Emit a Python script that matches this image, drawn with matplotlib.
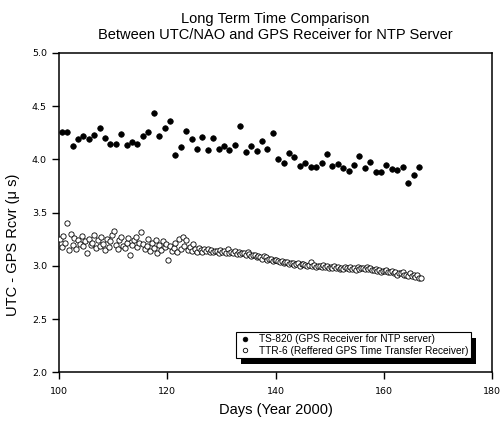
import matplotlib
matplotlib.use("Agg")
import matplotlib.pyplot as plt
from matplotlib.patches import Rectangle
from matplotlib.transforms import IdentityTransform

plt.rcParams['font.family'] = ['Liberation Sans', 'DejaVu Sans']

# TS-820 (GPS receiver for NTP server), one reading per day
ts_days = [100.5, 101.5, 102.5, 103.5, 104.5, 105.5, 106.5, 107.5, 108.5, 109.5,
           110.5, 111.5, 112.5, 113.5, 114.5, 115.5, 116.5, 117.5, 118.5, 119.5,
           120.5, 121.5, 122.5, 123.5, 124.5, 125.5, 126.5, 127.5, 128.5, 129.5,
           130.5, 131.5, 132.5, 133.5, 134.5, 135.5, 136.5, 137.5, 138.5, 139.5,
           140.5, 141.5, 142.5, 143.5, 144.5, 145.5, 146.5, 147.5, 148.5, 149.5,
           150.5, 151.5, 152.5, 153.5, 154.5, 155.5, 156.5, 157.5, 158.5, 159.5,
           160.5, 161.5, 162.5, 163.5, 164.5, 165.5, 166.5]
ts_vals = [4.26, 4.26, 4.13, 4.19, 4.22, 4.19, 4.23, 4.30, 4.20, 4.15,
           4.15, 4.24, 4.14, 4.16, 4.15, 4.22, 4.26, 4.44, 4.22, 4.30,
           4.36, 4.04, 4.12, 4.27, 4.19, 4.10, 4.21, 4.09, 4.20, 4.10,
           4.13, 4.09, 4.14, 4.31, 4.07, 4.13, 4.08, 4.17, 4.10, 4.25,
           4.00, 3.97, 4.06, 4.02, 3.94, 3.97, 3.93, 3.93, 3.97, 4.05,
           3.94, 3.96, 3.92, 3.89, 3.95, 4.03, 3.92, 3.98, 3.88, 3.88,
           3.95, 3.91, 3.90, 3.93, 3.78, 3.85, 3.93]

# TTR-6 (referred GPS time transfer receiver), three readings per day
ttr_day_list = list(range(100, 167))
ttr_readings = [
    [3.25, 3.18, 3.28], [3.22, 3.40, 3.15], [3.30, 3.20, 3.26], [3.16, 3.24, 3.21],
    [3.28, 3.19, 3.23], [3.12, 3.25, 3.20], [3.22, 3.29, 3.17], [3.24, 3.19, 3.27],
    [3.21, 3.15, 3.25], [3.18, 3.23, 3.29], [3.33, 3.20, 3.16], [3.24, 3.27, 3.19],
    [3.17, 3.22, 3.26], [3.10, 3.20, 3.24], [3.27, 3.18, 3.22], [3.32, 3.21, 3.16],
    [3.19, 3.25, 3.14], [3.22, 3.17, 3.24], [3.12, 3.20, 3.15], [3.23, 3.18, 3.21],
    [3.06, 3.19, 3.14], [3.17, 3.22, 3.13], [3.25, 3.16, 3.27], [3.19, 3.24, 3.15],
    [3.18, 3.14, 3.21], [3.16, 3.13, 3.17], [3.15, 3.13, 3.16], [3.14, 3.16, 3.13],
    [3.15, 3.13, 3.14], [3.14, 3.12, 3.15], [3.13, 3.14, 3.12], [3.16, 3.12, 3.13],
    [3.12, 3.14, 3.11], [3.13, 3.11, 3.12], [3.12, 3.10, 3.13], [3.11, 3.09, 3.10],
    [3.10, 3.08, 3.09], [3.08, 3.07, 3.09], [3.08, 3.06, 3.07], [3.07, 3.05, 3.06],
    [3.06, 3.05, 3.04], [3.05, 3.03, 3.04], [3.04, 3.02, 3.03], [3.03, 3.01, 3.02],
    [3.03, 3.00, 3.02], [3.02, 3.01, 3.00], [3.01, 3.04, 3.00], [3.01, 2.99, 3.00],
    [3.00, 2.99, 3.01], [2.99, 3.00, 2.98], [2.99, 2.98, 3.00], [2.98, 2.99, 2.97],
    [2.98, 2.97, 2.99], [2.98, 2.97, 2.99], [2.97, 2.98, 2.96], [2.99, 2.97, 2.98],
    [2.98, 2.97, 2.99], [2.97, 2.98, 2.96], [2.96, 2.97, 2.95], [2.96, 2.94, 2.95],
    [2.95, 2.96, 2.94], [2.94, 2.95, 2.93], [2.94, 2.92, 2.93], [2.93, 2.94, 2.92],
    [2.92, 2.91, 2.93], [2.91, 2.92, 2.90], [2.92, 2.89, 2.89],
]
ttr_offsets = [0.17, 0.5, 0.83]  # reading times within a day

ttr_days = []
ttr_vals = []
for d, vals in zip(ttr_day_list, ttr_readings):
    for off, v in zip(ttr_offsets, vals):
        ttr_days.append(d + off)
        ttr_vals.append(v)

fig = plt.figure(figsize=(5.0, 4.24), dpi=100)
ax = fig.add_axes([0.118, 0.1215, 0.866, 0.7535])

ax.plot(ttr_days, ttr_vals, 'o', ms=3.8, mfc='white', mec='black', mew=0.6,
        label='TTR-6 (Reffered GPS Time Transfer Receiver)', zorder=3)
ax.plot(ts_days, ts_vals, 'o', ms=4.0, mfc='black', mec='black', mew=0.5,
        label='TS-820 (GPS Receiver for NTP server)', zorder=4)

ax.set_xlim(100, 180)
ax.set_ylim(2.0, 5.0)
ax.set_xticks([100, 120, 140, 160, 180])
ax.set_yticks([2.0, 2.5, 3.0, 3.5, 4.0, 4.5, 5.0])
ax.set_yticklabels(['2.0', '2.5', '3.0', '3.5', '4.0', '4.5', '5.0'])
ax.tick_params(direction='out', length=4.7, width=1.0, labelsize=6.8,
               top=False, right=False)
ax.tick_params(axis='x', pad=6)
ax.tick_params(axis='y', pad=4)
for lbl in ax.get_xticklabels() + ax.get_yticklabels():
    lbl.set_family('DejaVu Sans')
for s in ax.spines.values():
    s.set_linewidth(1.1)

ax.set_xlabel('Days (Year 2000)', fontsize=10.5, labelpad=5)
ax.set_ylabel('UTC - GPS Rcvr (\u03bc s)', fontsize=10.5)
ax.yaxis.set_label_coords(-0.09, 0.40)
ax.set_title('Long Term Time Comparison\nBetween UTC/NAO and GPS Receiver for NTP Server',
             fontsize=10.5, pad=10, linespacing=1.2)

handles, labels = ax.get_legend_handles_labels()
leg = ax.legend(handles[::-1], labels[::-1], loc='lower right',
                bbox_to_anchor=(0.951, 0.045), borderaxespad=0,
                fontsize=7.3, fancybox=False, framealpha=1, edgecolor='black',
                handletextpad=0.7, handlelength=1.3, borderpad=0.25,
                labelspacing=0.15, markerscale=0.85)
leg.get_frame().set_linewidth(0.8)

# black drop shadow behind the legend box
fig.canvas.draw()
bb = leg.get_window_extent()
ax.add_patch(Rectangle((bb.x0 + 5, bb.y0 - 6), bb.width, bb.height,
                       transform=IdentityTransform(), facecolor='black',
                       edgecolor='none', zorder=4.9, clip_on=False))

fig.savefig('out.png', dpi=100)
